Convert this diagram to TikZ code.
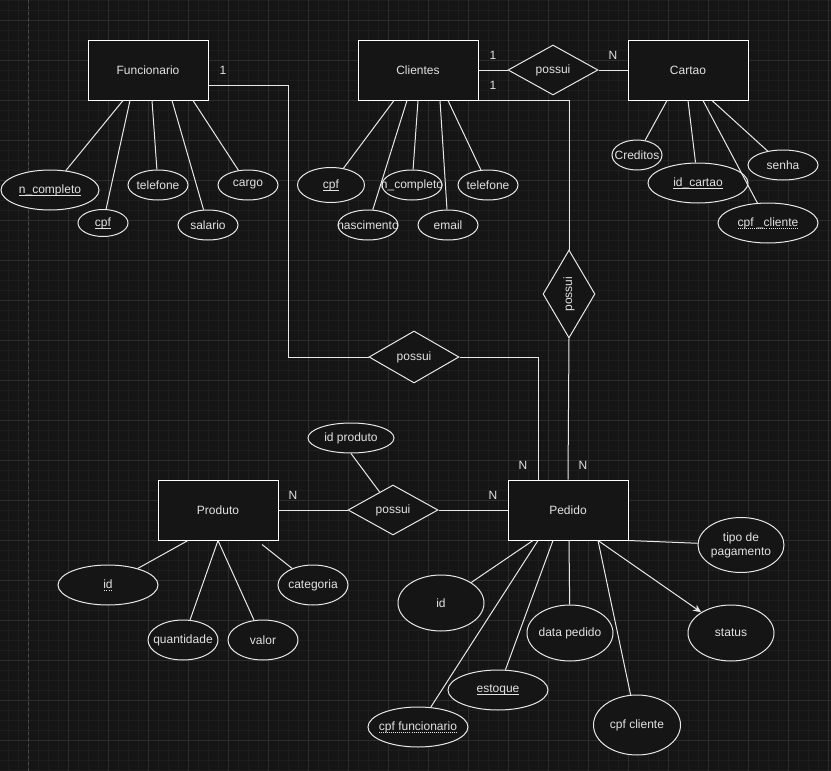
\documentclass[tikz,border=0pt]{standalone}
\usepackage{fontspec}
\setmainfont{Liberation Sans}
\usepackage{tikz}
\usetikzlibrary{shapes.geometric,arrows.meta}
\definecolor{bgc}{HTML}{151515}
\definecolor{gminor}{HTML}{1D1D1D}
\definecolor{gmajor}{HTML}{2C2C2C}
\definecolor{gpage}{HTML}{4A4A4A}
\definecolor{edge}{HTML}{E8E8E8}
\definecolor{txt}{HTML}{E2E2E2}
\newsavebox\ulbox
\newcommand{\zw}[1]{\makebox[0pt]{#1}}
\newcommand{\solidul}[1]{\sbox\ulbox{#1}\rlap{\raisebox{-2.5pt}{\rule{\wd\ulbox}{0.8pt}}}\usebox\ulbox}
\newcommand{\dotul}[1]{\sbox\ulbox{#1}\rlap{\raisebox{-2.5pt}{\hbox to\wd\ulbox{\xleaders\hbox to 2pt{\hss\rule{1pt}{0.8pt}\hss}\hfill}}}\usebox\ulbox}
\tikzset{
  minorgrid/.style={draw=gminor, line width=1pt},
  majorgrid/.style={draw=gmajor, line width=1pt},
  pageline/.style={draw=gpage, line width=1pt, dash pattern=on 3pt off 3pt},
  entity/.style={draw=white, fill=bgc, line width=1pt, minimum width=120pt, minimum height=60pt, inner sep=0pt, text=txt},
  attr/.style={ellipse, draw=edge, fill=bgc, line width=1pt, inner sep=0pt, text=txt},
  rel/.style={diamond, draw=edge, fill=bgc, line width=1pt, inner sep=0pt, minimum width=90pt, minimum height=50pt, text=txt},
  conn/.style={draw=edge, line width=1pt},
  card/.style={text=txt, inner sep=0pt},
}

\begin{document}
\begin{tikzpicture}[x=1pt, y=-1pt, font=\fontsize{12}{14}\selectfont]
  \useasboundingbox (0,0) rectangle (831,771);
  \fill[bgc] (0,0) rectangle (831,771);

  % grid
  \foreach \gx in {8,18,...,828} \draw[minorgrid] (\gx,0) -- (\gx,771);
  \foreach \gy in {0,10,...,770} \draw[minorgrid] (0,\gy) -- (831,\gy);
  \foreach \gx in {28,68,...,828} \draw[majorgrid] (\gx,0) -- (\gx,771);
  \foreach \gy in {20,60,...,740} \draw[majorgrid] (0,\gy) -- (831,\gy);
  \draw[pageline] (28,0) -- (28,771);

  % entities
  \node[entity] (fn) at (148,70) {Funcionario};
  \node[entity] (cl) at (418,70) {Clientes};
  \node[entity] (ca) at (688,70) {Cartao};
  \node[entity] (pr) at (218,510) {Produto};
  \node[entity] (pe) at (568,510) {Pedido};

  % relationships
  \node[rel] (pt) at (553,70) {possui};
  \node[rel, minimum width=52pt, minimum height=88pt] (pv) at (569,294) {\rotatebox{90}{possui}};
  \node[rel, minimum height=52pt] (pm) at (414,357) {possui};
  \node[rel] (pb) at (393,510) {possui};

  % attributes of Funcionario
  \node[attr, minimum width=98pt, minimum height=40pt] (fnc) at (50,190) {\zw{\solidul{n\_completo}}};
  \node[attr, minimum width=50pt, minimum height=27pt] (fcpf) at (103,223) {\zw{\solidul{cpf}}};
  \node[attr, minimum width=60pt, minimum height=30pt] (ftel) at (158,185) {\zw{telefone}};
  \node[attr, minimum width=60pt, minimum height=30pt] (fsal) at (208,225) {\zw{salario}};
  \node[attr, minimum width=60pt, minimum height=30pt] (fcar) at (248,185) {\zw{cargo}};

  % attributes of Clientes
  \node[attr, minimum width=67pt, minimum height=35pt] (ccpf) at (331,185) {\zw{\solidul{cpf}}};
  \node[attr, minimum width=60pt, minimum height=30pt] (cnas) at (368,225) {\zw{nascimento}};
  \node[attr, minimum width=60pt, minimum height=30pt] (cnc) at (412,185) {\zw{n\_completo}};
  \node[attr, minimum width=60pt, minimum height=30pt] (cem) at (448,225) {\zw{email}};
  \node[attr, minimum width=60pt, minimum height=30pt] (ctel) at (488,185) {\zw{telefone}};

  % attributes of Cartao
  \node[attr, minimum width=50pt, minimum height=30pt] (cacr) at (637,155) {\zw{Creditos}};
  \node[attr, minimum width=100pt, minimum height=40pt] (caid) at (698,183) {\zw{\solidul{id\_cartao}}};
  \node[attr, minimum width=70pt, minimum height=30pt] (case) at (783,165) {\zw{senha}};
  \node[attr, minimum width=100pt, minimum height=40pt] (cacp) at (768,223) {\zw{\dotul{cpf \_cliente}}};

  % attributes of Produto
  \node[attr, minimum width=86pt, minimum height=30pt] (idp) at (351,438) {\zw{id produto}};
  \node[attr, minimum width=100pt, minimum height=40pt] (prid) at (108,585) {\zw{\dotul{id}}};
  \node[attr, minimum width=70pt, minimum height=40pt] (prqt) at (183,640) {\zw{quantidade}};
  \node[attr, minimum width=70pt, minimum height=40pt] (prva) at (263,640) {\zw{valor}};
  \node[attr, minimum width=70pt, minimum height=40pt] (prca) at (313,585) {\zw{categoria}};

  % attributes of Pedido
  \node[attr, minimum width=86pt, minimum height=55pt, align=center] (petp) at (741,545) {tipo de\\pagamento};
  \node[attr, minimum width=86pt, minimum height=56pt] (peid) at (441,603) {\zw{id}};
  \node[attr, minimum width=86pt, minimum height=56pt] (pedt) at (570,633) {\zw{data pedido}};
  \node[attr, minimum width=86pt, minimum height=56pt] (pest) at (731,633) {\zw{status}};
  \node[attr, minimum width=100pt, minimum height=40pt] (pees) at (498,690) {\zw{\solidul{estoque}}};
  \node[attr, minimum width=100pt, minimum height=40pt] (pecf) at (418,727) {\zw{\dotul{cpf funcionario}}};
  \node[attr, minimum width=87pt, minimum height=60pt] (pecc) at (637,725) {\zw{cpf cliente}};

  % relationship lines
  \draw[conn] ([yshift=-15pt]fn.east) -- ++(80,0) |- (pm.west);
  \draw[conn] (pm.east) -| ([xshift=-30pt]pe.north);
  \draw[conn] (cl.east) -- (pt.west);
  \draw[conn] (pt.east) -- (ca.west);
  \draw[conn] (cl.south east) -| (pv.north);
  \draw[conn] (pv.south) -- (pe.north);
  \draw[conn] (pr.east) -- (pb.west);
  \draw[conn] (pb.east) -- (pe.west);
  \draw[conn] (idp.south) -- (pb);

  % attribute lines
  \foreach \a/\dx in {fnc/-25pt, fcpf/-18pt, ftel/4pt, fsal/24pt, fcar/45pt}
    \draw[conn] ([xshift=\dx]fn.south) -- (\a);
  \foreach \a/\dx in {ccpf/-24pt, cnas/-11pt, cnc/0pt, cem/22pt, ctel/30pt}
    \draw[conn] ([xshift=\dx]cl.south) -- (\a);
  \foreach \a/\dx in {cacr/-21pt, caid/0pt, cacp/15pt, case/24pt}
    \draw[conn] ([xshift=\dx]ca.south) -- (\a);
  \foreach \a/\dx in {prid/-30pt, prqt/0pt, prva/0pt}
    \draw[conn] ([xshift=\dx]pr.south) -- (\a);
  \draw[conn] ([xshift=44pt,yshift=-4pt]pr.south) -- (prca);
  \foreach \a/\dx in {peid/-35pt, pecf/-30pt, pees/-15pt, pedt/1pt, pecc/30pt}
    \draw[conn] ([xshift=\dx]pe.south) -- (\a);
  \draw[conn, -{Stealth[length=8pt,width=7pt]}] ([xshift=30pt]pe.south) -- (pest);
  \draw[conn] (pe.south east) -- (petp);

  % cardinalities
  \node[card] (k1) at (223,70) {1};
  \node[card] (k2) at (493,55) {1};
  \node[card] (k3) at (493,85) {1};
  \node[card] (k4) at (613,55) {N};
  \node[card] (k5) at (523,465) {N};
  \node[card] (k6) at (583,465) {N};
  \node[card] (k7) at (293,495) {N};
  \node[card] (k8) at (493,495) {N};
\end{tikzpicture}
\end{document}
